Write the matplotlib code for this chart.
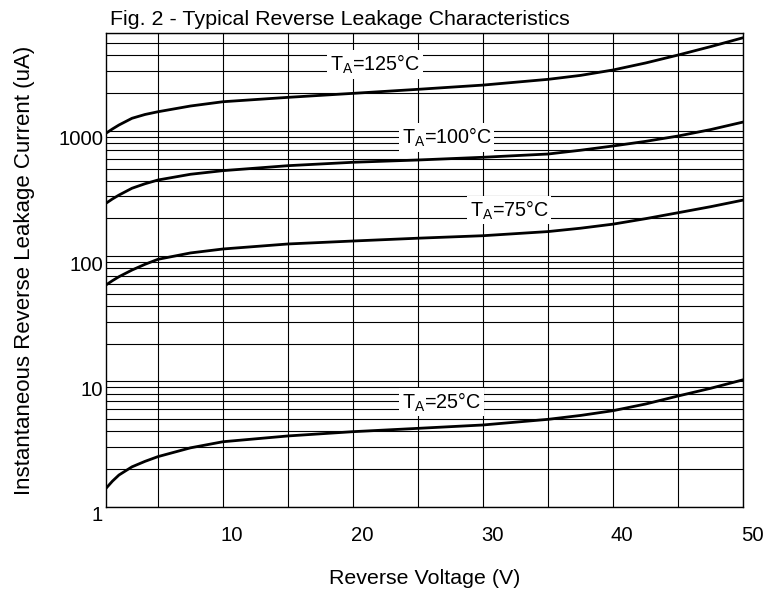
# Fig. 2 - Typical Reverse Leakage Characteristics (datasheet style log plot)

import matplotlib
matplotlib.use('Agg')
import matplotlib.pyplot as plt
from matplotlib.transforms import ScaledTranslation
from matplotlib.ticker import FixedLocator, NullFormatter

plt.rcParams['font.family'] = ['Liberation Sans', 'DejaVu Sans']
plt.rcParams['mathtext.fontset'] = 'custom'
plt.rcParams['mathtext.rm'] = 'Liberation Sans'

# Data (V, uA)
volts = [1, 1.5, 2, 3, 4, 5, 7.5, 10, 15, 20, 25, 30, 35, 37.5, 40, 42.5, 45, 47.5, 50]
i_125 = [956, 1035, 1113, 1259, 1350, 1420, 1578, 1707, 1850, 1991, 2144, 2318, 2576,
         2770, 3060, 3480, 4027, 4700, 5535]
i_100 = [264, 286, 307, 348, 378, 405, 450, 481, 527, 561, 585, 615, 653,
         700, 757, 824, 909, 1023, 1175]
i_75 = [58.8, 63.7, 68.5, 77.4, 86, 94.3, 106, 114, 125, 132, 139, 145.5, 157,
        167, 180, 199, 222, 248, 280]
i_25 = [1.40, 1.60, 1.79, 2.08, 2.30, 2.51, 2.95, 3.30, 3.67, 3.97, 4.22, 4.49, 4.98,
        5.35, 5.84, 6.6, 7.65, 8.81, 10.3]

labels = ['T$_\\mathregular{A}$=125°C', 'T$_\\mathregular{A}$=100°C',
          'T$_\\mathregular{A}$=75°C', 'T$_\\mathregular{A}$=25°C']
label_x = [21.7, 27.2, 32.0, 26.8]
label_y = [3400, 890, 233, 6.85]

x_ticks = [10, 20, 30, 40, 50]
y_ticks = [1, 10, 100, 1000]
y_ticklabels = ['1', '10', '100', '1000']

fig = plt.figure(figsize=(7.78, 5.92), dpi=100)
ax = fig.add_axes([0.1362, 0.1441, 0.819, 0.7996])

ax.set_yscale('log')
ax.set_xlim(1, 50)
ax.set_ylim(1, 6000)

# grid: every 5 V, and 1-9 per decade
ax.xaxis.set_minor_locator(FixedLocator([5, 15, 25, 35, 45]))
ax.xaxis.set_major_locator(FixedLocator(x_ticks))
ax.set_xticklabels([str(v) for v in x_ticks])
minor_y = [m * 10 ** d for d in range(4) for m in range(2, 10)]
ax.yaxis.set_minor_locator(FixedLocator(minor_y))
ax.yaxis.set_minor_formatter(NullFormatter())
ax.yaxis.set_major_locator(FixedLocator(y_ticks))
ax.set_yticklabels(y_ticklabels)
ax.grid(True, which='both', color='black', linewidth=0.8)
ax.set_axisbelow(True)
ax.tick_params(which='both', length=0, labelsize=14.6, colors='black')
ax.tick_params(axis='x', pad=14)
ax.tick_params(axis='y', pad=2)
for s in ax.spines.values():
    s.set_linewidth(1.0)

for ys in [i_125, i_100, i_75, i_25]:
    ax.plot(volts, ys, color='black', linewidth=2.0, zorder=3)

for txt, lx, ly in zip(labels, label_x, label_y):
    ax.text(lx, ly, txt, fontsize=14.2, ha='center', va='center', zorder=4,
            bbox=dict(facecolor='white', edgecolor='none', pad=2))

# datasheet labels sit a bit off their gridlines
dx = ScaledTranslation(9 / 100, 0, fig.dpi_scale_trans)
for lab in ax.get_xticklabels():
    lab.set_transform(lab.get_transform() + dx)
dy = ScaledTranslation(0, -7 / 100, fig.dpi_scale_trans)
for lab in ax.get_yticklabels():
    lab.set_transform(lab.get_transform() + dy)

ax.set_xlabel('Reverse Voltage (V)', fontsize=15.4)
ax.xaxis.set_label_coords(0.5, -0.132)
ax.set_ylabel('Instantaneous Reverse Leakage Current (uA)', fontsize=16)
ax.yaxis.set_label_coords(-0.112, 0.5)
fig.text(0.141, 0.967, 'Fig. 2 - Typical Reverse Leakage Characteristics',
         fontsize=15.4, ha='left', va='center')

fig.savefig('out.png', dpi=100)
